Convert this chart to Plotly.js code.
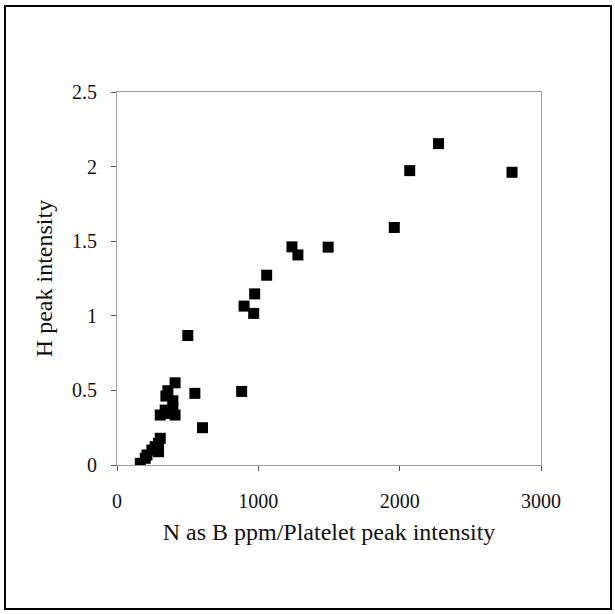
<!DOCTYPE html>
<html>
<head>
<meta charset="utf-8">
<script src="https://cdn.plot.ly/plotly-3.0.1.min.js"></script>
<style>
html,body{margin:0;padding:0;background:#fff;}
#chart{width:615px;height:614px;}
</style>
</head>
<body>
<div id="chart"></div>
<script>
// N as B ppm / Platelet peak intensity
var nOverPlatelet = [2275, 2071, 2795, 1962, 1238, 1280, 1494, 1059, 974, 899, 967, 501, 551, 882, 605,
                     411, 360, 346, 395, 395, 306, 353, 411, 341,
                     306, 294, 270, 247, 294, 212, 200, 165];
// H peak intensity
var hPeak = [2.154, 1.973, 1.962, 1.592, 1.462, 1.408, 1.46, 1.272, 1.147, 1.065, 1.016, 0.868, 0.48, 0.493, 0.25,
             0.551, 0.498, 0.462, 0.43, 0.38, 0.335, 0.346, 0.335, 0.368,
             0.179, 0.145, 0.123, 0.1, 0.089, 0.067, 0.045, 0.011];
var xTicks = [0, 1000, 2000, 3000];
var yTicks = [0, 0.5, 1, 1.5, 2, 2.5];
var yTickText = ['0', '0.5', '1', '1.5', '2', '2.5'];

var trace = {
  x: nOverPlatelet,
  y: hPeak,
  type: 'scatter',
  mode: 'markers',
  marker: {symbol: 'square', size: 11, color: '#000000', line: {width: 0}},
  hoverinfo: 'x+y'
};

var mL = 117, mR = 74, mT = 92, mB = 149, W = 615, Ht = 614;
var pw = W - mL - mR, ph = Ht - mT - mB;
function px2x(p){ return (p - mL) / pw; }
function py2y(p){ return (Ht - mB - p) / ph; }
var fam = 'Liberation Serif';

var layout = {
  width: W, height: Ht,
  margin: {l: mL, r: mR, t: mT, b: mB, pad: 0},
  paper_bgcolor: '#ffffff',
  plot_bgcolor: '#ffffff',
  showlegend: false,
  font: {family: fam, color: '#111111', size: 20},
  xaxis: {
    range: [0, 3000],
    tickvals: xTicks,
    ticktext: xTicks.map(String),
    showgrid: false, zeroline: false,
    showline: true, mirror: true, linecolor: '#9c9cb0', linewidth: 1,
    ticks: 'outside', ticklen: 5, tickcolor: '#555555', tickwidth: 1,
    ticklabelstandoff: 13,
    tickfont: {family: fam, size: 20, color: '#111111'},
    title: {text: 'N as B ppm/Platelet peak intensity', font: {family: fam, size: 24, color: '#111111'}, standoff: 12}
  },
  yaxis: {
    range: [0, 2.5],
    tickvals: yTicks,
    ticktext: yTickText,
    showgrid: false, zeroline: false,
    showline: true, mirror: true, linecolor: '#9c9cb0', linewidth: 1,
    ticks: 'outside', ticklen: 5, tickcolor: '#555555', tickwidth: 1,
    ticklabelstandoff: 10,
    tickfont: {family: fam, size: 20, color: '#111111'},
    title: {text: 'H peak intensity', font: {family: fam, size: 24, color: '#111111'}, standoff: 12}
  },
  shapes: [{
    type: 'rect', xref: 'paper', yref: 'paper',
    x0: px2x(5), x1: px2x(611), y0: py2y(609), y1: py2y(6),
    line: {color: '#000000', width: 2}, fillcolor: 'rgba(0,0,0,0)', layer: 'below'
  }]
};

Plotly.newPlot('chart', [trace], layout, {staticPlot: true, displayModeBar: false});
</script>
</body>
</html>
